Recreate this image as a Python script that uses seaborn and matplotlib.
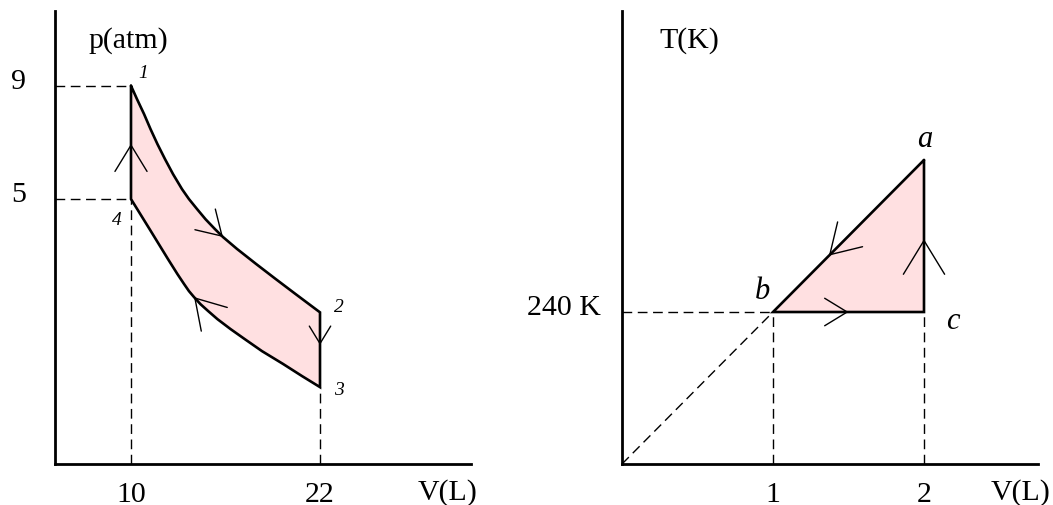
import numpy as np
import matplotlib
matplotlib.use("Agg")
import matplotlib.pyplot as plt
import matplotlib.transforms as mtransforms
import seaborn as sns

# ---- p-V diagram: cycle 1 -> 2 -> 3 -> 4 -> 1 ----
upper_V = [10.0, 10.38, 10.83, 11.24, 11.68, 12.16, 12.67, 13.24, 13.68, 14.19,
           14.73, 15.33, 15.84, 16.73, 17.94, 19.18, 20.44, 22.0]
upper_p = [9.0, 8.53, 8.00, 7.47, 6.94, 6.41, 5.88, 5.35, 5.00, 4.65,
           4.29, 3.94, 3.66, 3.24, 2.71, 2.18, 1.65, 1.0]
lower_V = [22.0, 20.86, 19.65, 18.32, 17.21, 16.32, 15.49, 14.89, 14.41, 14.00,
           13.68, 13.37, 12.95, 12.35, 11.18, 10.0]
lower_p = [-1.64, -1.25, -0.82, -0.37, 0.06, 0.41, 0.76, 1.05, 1.29, 1.54,
           1.75, 2.00, 2.35, 2.88, 3.94, 5.0]

pv_states = ["1", "2", "3", "4"]
pv_state_V = [10, 22, 22, 10]
pv_state_p = [9, 1.0, -1.64, 5]

pv_V_ticks = [10, 22]
pv_p_ticks = [9, 5]

# direction markers on the p-V cycle: (tail, tip)
pv_arrow_tail = [(10, 5.0), (15.33, 3.94), (22, 1.0), (14.41, 1.29)]
pv_arrow_tip = [(10, 6.95), (15.84, 3.66), (22, -0.15), (14.00, 1.54)]

# ---- T-V diagram: cycle a -> b -> c -> a ----
tv_states = ["a", "b", "c"]
tv_state_V = [2, 1, 2]
tv_state_T = [480, 240, 240]

tv_V_ticks = [1, 2]
tv_T_ticks = [240]
tv_T_ticklabels = ["240 K"]

tv_arrow_tail = [(1, 240), (2, 240), (2, 480)]
tv_arrow_tip = [(1.5, 240), (2, 355), (1.37, 329)]

# ---- style ----
sns.set_theme(style="white")
FS = 21.5
plt.rcParams["font.family"] = ["Liberation Serif", "DejaVu Serif"]
plt.rcParams["font.size"] = FS
plt.rcParams["xtick.labelsize"] = FS
plt.rcParams["ytick.labelsize"] = FS
plt.rcParams["axes.labelsize"] = FS
plt.rcParams["lines.scale_dashes"] = False
plt.rcParams["text.color"] = "black"
plt.rcParams["axes.labelcolor"] = "black"

FILL = "#ffe0e1"
DASH = dict(color="black", lw=1.0, linestyle=(0, (7, 4)), zorder=2)

W, H = 1053, 506
fig = plt.figure(figsize=(W / 100, H / 100), dpi=100)
ax1 = fig.add_axes([55 / W, 41 / H, 416 / W, 453 / H])
ax2 = fig.add_axes([622 / W, 41 / H, 416 / W, 453 / H])

ax1.set_xlim(5.175, 31.587)
ax1.set_ylim(-4.354, 11.64)
ax2.set_xlim(0, 2.755)
ax2.set_ylim(0, 715.3)

for ax in (ax1, ax2):
    ax.set_facecolor("white")
    for s in ("top", "right"):
        ax.spines[s].set_visible(False)
    for s in ("left", "bottom"):
        ax.spines[s].set_linewidth(2.0)
        ax.spines[s].set_color("black")
    ax.tick_params(length=0, colors="black", labelsize=FS)


def chevron(ax, tail, tip, size):
    """Open arrowhead sitting on the path, pointing from tail towards tip."""
    a = ax.transData.transform(tail)
    b = ax.transData.transform(tip)
    d = (b - a) / np.hypot(*(b - a))
    ax.annotate("", xy=tip, xycoords="data",
                xytext=(-3 * d[0], -3 * d[1]), textcoords="offset pixels",
                arrowprops=dict(arrowstyle="->,head_length=0.9,head_width=0.55",
                                mutation_scale=size, lw=1.0, color="black",
                                shrinkA=0, shrinkB=0),
                zorder=5)


# ---- left panel ----
cyc_V = upper_V + lower_V + [upper_V[0]]
cyc_p = upper_p + lower_p + [upper_p[0]]
ax1.fill(cyc_V, cyc_p, color=FILL, lw=0, zorder=1)

x0, _ = ax1.get_xlim()
y0, _ = ax1.get_ylim()
for p in pv_p_ticks:
    ax1.plot([x0, pv_state_V[0]], [p, p], **DASH)
ax1.plot([pv_state_V[3], pv_state_V[3]], [y0, pv_state_p[3]], **DASH)
ax1.plot([pv_state_V[2], pv_state_V[2]], [y0, pv_state_p[2]], **DASH)

sns.lineplot(x=cyc_V, y=cyc_p, sort=False, estimator=None, color="black",
             lw=1.9, solid_joinstyle="miter", ax=ax1, zorder=3)

for (tail, tip), size in zip(zip(pv_arrow_tail, pv_arrow_tip), [21, 19, 14, 23]):
    chevron(ax1, tail, tip, size)

pv_offsets = [(12, 13), (19, 6), (19, -2), (-14, -20)]
for lab, v, p, off in zip(pv_states, pv_state_V, pv_state_p, pv_offsets):
    ax1.annotate(lab, xy=(v, p), xytext=off, textcoords="offset pixels",
                 ha="center", va="center", fontsize=14, fontstyle="italic")

ax1.set_xticks(pv_V_ticks, labels=[str(v) for v in pv_V_ticks])
ax1.set_yticks(pv_p_ticks, labels=[str(p) for p in pv_p_ticks])
ax1.tick_params(axis="x", pad=12)
ax1.tick_params(axis="y", pad=21)
ax1.set_xlabel("V(L)", ha="center", va="center", fontsize=FS)
ax1.xaxis.set_label_coords(0.9447, -0.0618)
ax1.set_ylabel("p(atm)", rotation=0, ha="center", va="center", fontsize=FS)
ax1.yaxis.set_label_coords(0.1755, 0.938)

# ---- right panel ----
tri_V = [tv_state_V[0], tv_state_V[1], tv_state_V[2], tv_state_V[0]]
tri_T = [tv_state_T[0], tv_state_T[1], tv_state_T[2], tv_state_T[0]]
ax2.fill(tri_V, tri_T, color=FILL, lw=0, zorder=1)

vb, Tb = tv_state_V[1], tv_state_T[1]
vc = tv_state_V[2]
ax2.plot([0, vb], [Tb, Tb], **DASH)
ax2.plot([vb, vb], [0, Tb], **DASH)
ax2.plot([vc, vc], [0, tv_state_T[2]], **DASH)
ax2.plot([0, vb], [0, Tb], **DASH)

sns.lineplot(x=tri_V, y=tri_T, sort=False, estimator=None, color="black",
             lw=1.9, solid_joinstyle="miter", ax=ax2, zorder=3)

for (tail, tip), size in zip(zip(tv_arrow_tail, tv_arrow_tip), [18, 27, 23]):
    chevron(ax2, tail, tip, size)

tv_offsets = [(1, 22), (-11, 22), (29, -8)]
for lab, v, T, off in zip(tv_states, tv_state_V, tv_state_T, tv_offsets):
    ax2.annotate(lab, xy=(v, T), xytext=off, textcoords="offset pixels",
                 ha="center", va="center", fontsize=22, fontstyle="italic")

ax2.set_xticks(tv_V_ticks, labels=[str(v) for v in tv_V_ticks])
ax2.set_yticks(tv_T_ticks, labels=tv_T_ticklabels)
ax2.tick_params(axis="x", pad=12)
ax2.tick_params(axis="y", pad=15.5)
ax2.set_xlabel("V(L)", ha="center", va="center", fontsize=FS)
ax2.xaxis.set_label_coords(0.957, -0.0618)
ax2.set_ylabel("T(K)", rotation=0, ha="center", va="center", fontsize=FS)
ax2.yaxis.set_label_coords(0.161, 0.938)

# lift the value labels on the vertical axes slightly above their guide lines
shift = mtransforms.ScaledTranslation(0, 0.08, fig.dpi_scale_trans)
for ax in (ax1, ax2):
    for lbl in ax.get_yticklabels():
        lbl.set_transform(lbl.get_transform() + shift)

fig.savefig("out.png", dpi=100, facecolor="white")
